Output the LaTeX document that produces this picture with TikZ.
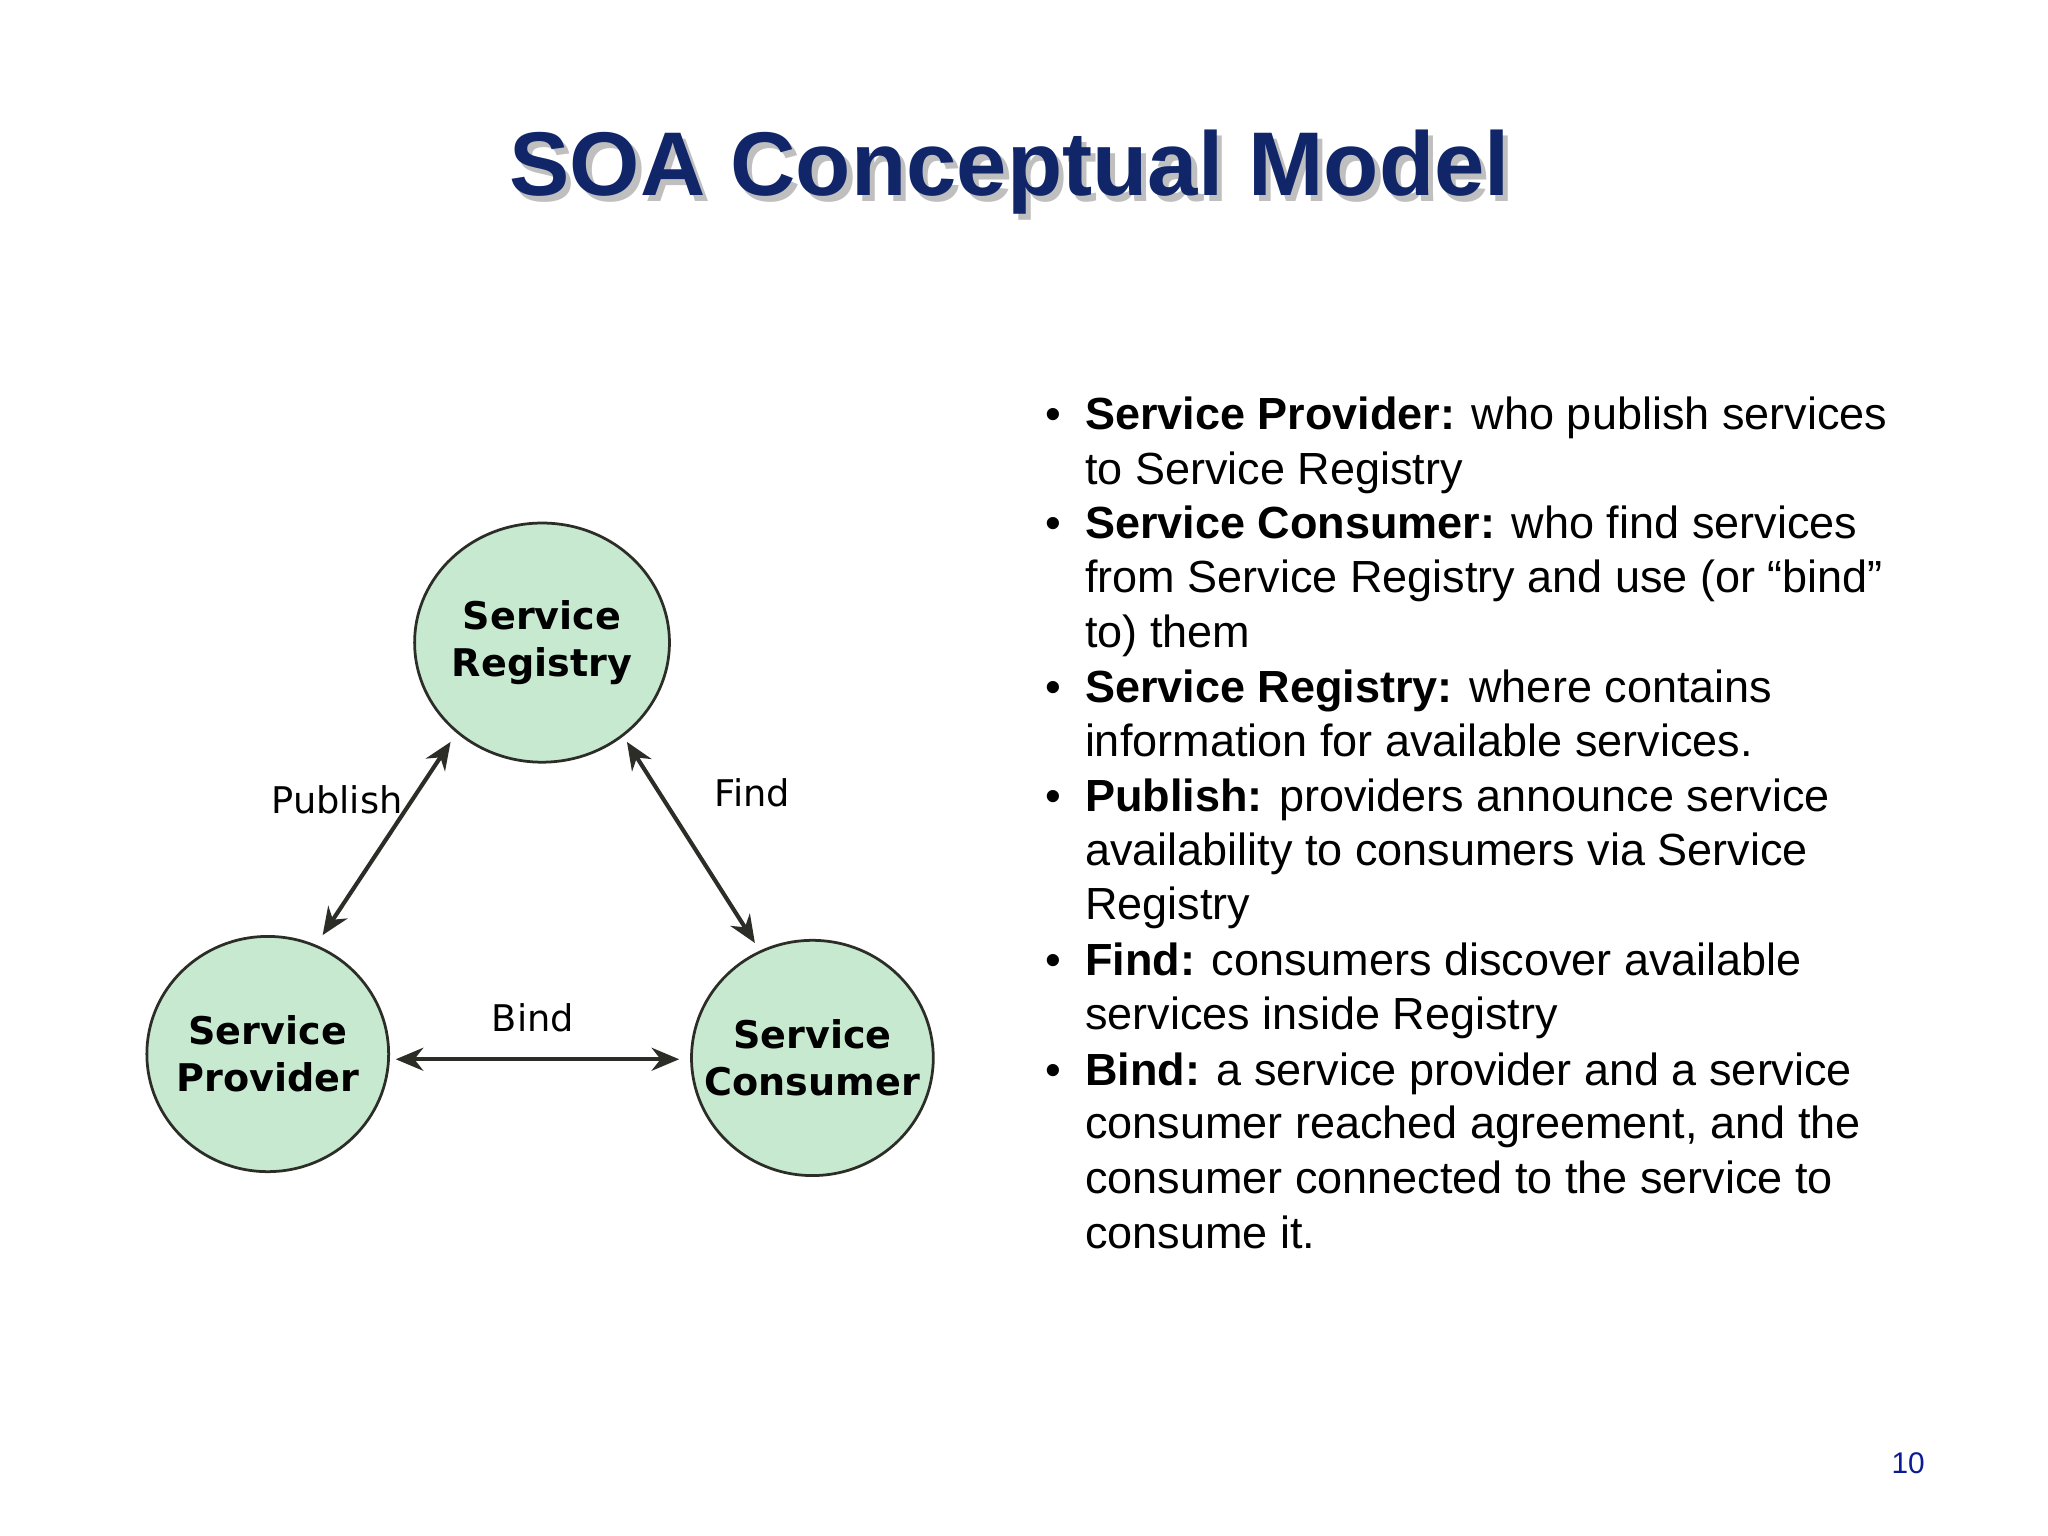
\documentclass[tikz,border=0pt]{standalone}
\usepackage{fontspec}
\setmainfont{Liberation Sans}
\newfontfamily\vfont{DejaVu Sans}
\usetikzlibrary{arrows.meta,shapes.geometric}
\definecolor{navy}{RGB}{16,38,104}
\definecolor{cgreen}{RGB}{199,233,208}
\definecolor{ink}{RGB}{45,45,40}
\tikzset{
  svc/.style={ellipse, draw=ink, line width=0.6pt, fill=cgreen, inner sep=0pt},
  svctxt/.style={align=center, inner sep=0pt, font=\vfont\bfseries\fontsize{8.3}{10.3}\selectfont},
  conn/.style={ink, line width=0.9pt, {Stealth[length=6pt,width=5pt]}-{Stealth[length=6pt,width=5pt]}},
  lbl/.style={font=\vfont\fontsize{8}{10}\selectfont, text=black},
  ln/.style={anchor=base west, inner sep=0pt, font=\fontsize{9.8}{12}\selectfont},
}
\begin{document}
\begin{tikzpicture}[x=0.01cm,y=-0.01cm]
\useasboundingbox (0,0) rectangle (1568,1176);
\fill[white] (0,0) rectangle (1568,1176);
\node[font=\bfseries\fontsize{19.7}{24}\selectfont, text=gray!50] (tsh) at (777,136) {SOA Conceptual Model};
\node[font=\bfseries\fontsize{19.7}{24}\selectfont, text=navy] (title) at (773,132) {SOA Conceptual Model};
\node[svc, minimum width=1.95cm, minimum height=1.83cm] (reg) at (415,492) {};
\node[svc, minimum width=1.85cm, minimum height=1.8cm] (prov) at (205,807) {};
\node[svc, minimum width=1.85cm, minimum height=1.8cm] (cons) at (622,810) {};
\node[svctxt] (regt) at (reg) {Service\\Registry};
\node[svctxt] (provt) at (prov) {Service\\Provider};
\node[svctxt] (const) at (cons) {Service\\Consumer};
\coordinate (p1) at (345,568); \coordinate (p2) at (247,716);
\coordinate (f1) at (480,568); \coordinate (f2) at (578,722);
\coordinate (b1) at (303,811); \coordinate (b2) at (520,811);
\draw[conn] (p1) -- (p2);
\draw[conn] (f1) -- (f2);
\draw[conn] (b1) -- (b2);
\node[lbl] (lp) at (258,612) {Publish};
\node[lbl] (lf) at (576,607) {Find};
\node[lbl] (lb) at (408,779) {Bind};
\foreach \y in {329,412,538,621,747,831}{\node[ln] at (800,\y) {•};}
\node[ln] (l1) at (830,329) {\textbf{Service Provider:} who publish services};
\node[ln] at (830,371) {to Service Registry};
\node[ln] at (830,412) {\textbf{Service Consumer:} who find services};
\node[ln] at (830,454) {from Service Registry and use (or “bind”};
\node[ln] at (830,496) {to) them};
\node[ln] at (830,538) {\textbf{Service Registry:} where contains};
\node[ln] at (830,579) {information for available services.};
\node[ln] at (830,621) {\textbf{Publish:} providers announce service};
\node[ln] at (830,663) {availability to consumers via Service};
\node[ln] at (830,704) {Registry};
\node[ln] at (830,747) {\textbf{Find:} consumers discover available};
\node[ln] at (830,788) {services inside Registry};
\node[ln] at (830,831) {\textbf{Bind:} a service provider and a service};
\node[ln] at (830,872) {consumer reached agreement, and the};
\node[ln] at (830,914) {consumer connected to the service to};
\node[ln] at (830,956) {consume it.};
\node[font=\fontsize{6.5}{8}\selectfont, text=navy!70!blue] (pg) at (1461,1120) {10};
\end{tikzpicture}
\end{document}
